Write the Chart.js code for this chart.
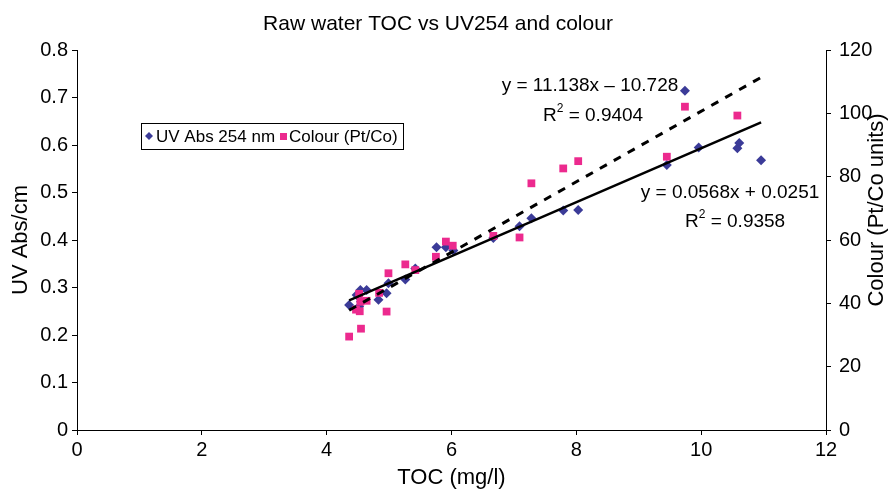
<!DOCTYPE html>
<html>
<head>
<meta charset="utf-8">
<script src="https://cdn.jsdelivr.net/npm/chart.js@4/dist/chart.umd.min.js"></script>
<style>
  html, body { margin: 0; padding: 0; background: #fff; }
  #wrap { width: 892px; height: 491px; position: relative; }
</style>
</head>
<body>
<div id="wrap"><canvas id="chart"></canvas></div>
<script>
// --- data ---
const TOC_UV = [4.36, 4.48, 4.52, 4.54, 4.64, 4.55, 4.83, 4.96, 4.99, 5.26, 5.42, 5.76, 5.91, 6.03, 6.67, 7.09, 7.28, 7.79, 8.03, 9.45, 9.74, 9.96, 10.58, 10.61, 10.96];
const UV_ABS = [0.263, 0.284, 0.26, 0.295, 0.295, 0.27, 0.274, 0.288, 0.309, 0.317, 0.34, 0.385, 0.385, 0.378, 0.404, 0.429, 0.446, 0.462, 0.463, 0.558, 0.714, 0.595, 0.593, 0.604, 0.568];

const TOC_COLOUR = [4.36, 4.55, 4.47, 4.53, 4.96, 4.54, 4.64, 4.52, 4.84, 4.99, 5.26, 5.42, 5.75, 5.91, 6.02, 6.67, 7.09, 7.28, 7.79, 8.03, 9.45, 9.74, 10.58];
const COLOUR = [29.5, 32, 38, 37.5, 37.4, 40.5, 40.8, 43, 43.3, 49.5, 52.3, 50.5, 54.7, 59.5, 58.2, 61.3, 60.8, 77.9, 82.6, 84.9, 86.3, 102.1, 99.3];

// linear trendlines as printed on the chart
const UV_FIT = { slope: 0.0568, intercept: 0.0251, r2: 0.9358 };
const COLOUR_FIT = { slope: 11.138, intercept: -10.728, r2: 0.9404 };
const FIT_RANGE = [4.36, 10.96];

const X_TICKS = [0, 2, 4, 6, 8, 10, 12];
const UV_TICKS = [0, 0.1, 0.2, 0.3, 0.4, 0.5, 0.6, 0.7, 0.8];
const COLOUR_TICKS = [0, 20, 40, 60, 80, 100, 120];

const BLUE = '#3b3b98';
const PINK = '#ec2a8e';
const FONT = "'Liberation Sans', Arial, sans-serif";

const toPoints = (xs, ys) => xs.map((x, i) => ({ x: x, y: ys[i] }));
const fitLine = (fit) => FIT_RANGE.map(x => ({ x: x, y: fit.slope * x + fit.intercept }));

// --- extra drawing: title, right axis title, legend box, equations ---
const decorations = {
    id: 'decorations',
    afterDraw(chart) {
        const ctx = chart.ctx;
        ctx.save();
        ctx.fillStyle = '#000';
        ctx.textBaseline = 'middle';

        // title
        ctx.font = '21px ' + FONT;
        ctx.textAlign = 'center';
        ctx.fillText('Raw water TOC vs UV254 and colour', 438, 24);

        // right axis title, reads bottom to top
        ctx.save();
        ctx.translate(877, 210);
        ctx.rotate(-Math.PI / 2);
        ctx.font = '22px ' + FONT;
        ctx.fillText('Colour (Pt/Co units)', 0, 0);
        ctx.restore();

        // legend
        ctx.fillStyle = '#fff';
        ctx.fillRect(141.5, 123.5, 262, 26);
        ctx.strokeStyle = '#000';
        ctx.lineWidth = 1;
        ctx.strokeRect(141.5, 123.5, 262, 26);
        ctx.fillStyle = BLUE;
        ctx.beginPath();
        ctx.moveTo(149, 132); ctx.lineTo(153, 136); ctx.lineTo(149, 140); ctx.lineTo(145, 136);
        ctx.closePath(); ctx.fill();
        ctx.fillStyle = PINK;
        ctx.fillRect(280, 133, 7, 7);
        ctx.fillStyle = '#000';
        ctx.font = '17px ' + FONT;
        ctx.textAlign = 'left';
        ctx.fillText('UV Abs 254 nm', 156, 137);
        ctx.fillText('Colour (Pt/Co)', 289, 137);

        // equations
        ctx.font = '19px ' + FONT;
        ctx.textAlign = 'center';
        ctx.fillText('y = ' + COLOUR_FIT.slope.toFixed(3) + 'x \u2013 ' + Math.abs(COLOUR_FIT.intercept).toFixed(3), 590, 86);
        ctx.fillText('y = ' + UV_FIT.slope.toFixed(4) + 'x + ' + UV_FIT.intercept.toFixed(4), 730, 193);
        drawR2(ctx, COLOUR_FIT.r2, 543, 116);
        drawR2(ctx, UV_FIT.r2, 685, 222);
        ctx.restore();
    }
};

function drawR2(ctx, r2, x, y) {
    ctx.textAlign = 'left';
    ctx.font = '19px ' + FONT;
    ctx.fillText('R', x, y);
    const w = ctx.measureText('R').width;
    ctx.font = '12px ' + FONT;
    ctx.fillText('2', x + w, y - 7);
    const w2 = ctx.measureText('2').width;
    ctx.font = '19px ' + FONT;
    ctx.fillText(' = ' + r2.toFixed(4), x + w + w2, y);
}

const axisGrid = { display: true, drawOnChartArea: false, drawTicks: true, tickLength: 5, color: '#000' };
const axisBorder = { display: true, color: '#000', width: 1 };
const tickFont = { family: FONT, size: 20 };
const titleFont = { family: FONT, size: 22 };

new Chart(document.getElementById('chart'), {
    type: 'scatter',
    data: {
        datasets: [
            {
                label: 'UV Abs 254 nm',
                data: toPoints(TOC_UV, UV_ABS),
                yAxisID: 'y',
                pointStyle: 'rectRot',
                pointRadius: 5,
                backgroundColor: BLUE,
                borderColor: BLUE,
                borderWidth: 0,
                order: 3
            },
            {
                label: 'Colour (Pt/Co)',
                data: toPoints(TOC_COLOUR, COLOUR),
                yAxisID: 'y1',
                pointStyle: 'rect',
                pointRadius: 5.5,
                backgroundColor: PINK,
                borderColor: PINK,
                borderWidth: 0,
                order: 2
            },
            {
                label: 'UV trend',
                data: fitLine(UV_FIT),
                yAxisID: 'y',
                showLine: true,
                borderColor: '#000',
                borderWidth: 2.5,
                pointRadius: 0,
                order: 1
            },
            {
                label: 'Colour trend',
                data: fitLine(COLOUR_FIT),
                yAxisID: 'y1',
                showLine: true,
                borderColor: '#000',
                borderWidth: 3,
                borderDash: [8, 8],
                pointRadius: 0,
                order: 0
            }
        ]
    },
    options: {
        responsive: true,
        maintainAspectRatio: false,
        animation: false,
        layout: { padding: { top: 50, left: 0, right: 0, bottom: 0 } },
        plugins: {
            legend: { display: false },
            title: { display: false },
            tooltip: { enabled: false }
        },
        scales: {
            x: {
                type: 'linear',
                min: 0, max: 12,
                afterBuildTicks: (s) => { s.ticks = X_TICKS.map(v => ({ value: v })); },
                afterFit: (s) => { s.height = 61; },
                grid: axisGrid,
                border: axisBorder,
                ticks: { color: '#000', font: tickFont, padding: 3, maxRotation: 0 },
                title: { display: true, text: 'TOC (mg/l)', color: '#000', font: titleFont, padding: { top: 0, bottom: 0 } }
            },
            y: {
                type: 'linear',
                position: 'left',
                min: 0, max: 0.8,
                afterBuildTicks: (s) => { s.ticks = UV_TICKS.map(v => ({ value: v })); },
                afterFit: (s) => { s.width = 77; },
                grid: axisGrid,
                border: axisBorder,
                ticks: { color: '#000', font: tickFont, padding: 4, callback: (v) => v === 0 ? '0' : v.toFixed(1) },
                title: { display: true, text: 'UV Abs/cm', color: '#000', font: titleFont, padding: { top: 8, bottom: 0 } }
            },
            y1: {
                type: 'linear',
                position: 'right',
                min: 0, max: 120,
                afterBuildTicks: (s) => { s.ticks = COLOUR_TICKS.map(v => ({ value: v })); },
                afterFit: (s) => { s.width = 66; },
                grid: axisGrid,
                border: axisBorder,
                ticks: { color: '#000', font: tickFont, padding: 8 },
                title: { display: false }
            }
        }
    },
    plugins: [decorations]
});
</script>
</body>
</html>
